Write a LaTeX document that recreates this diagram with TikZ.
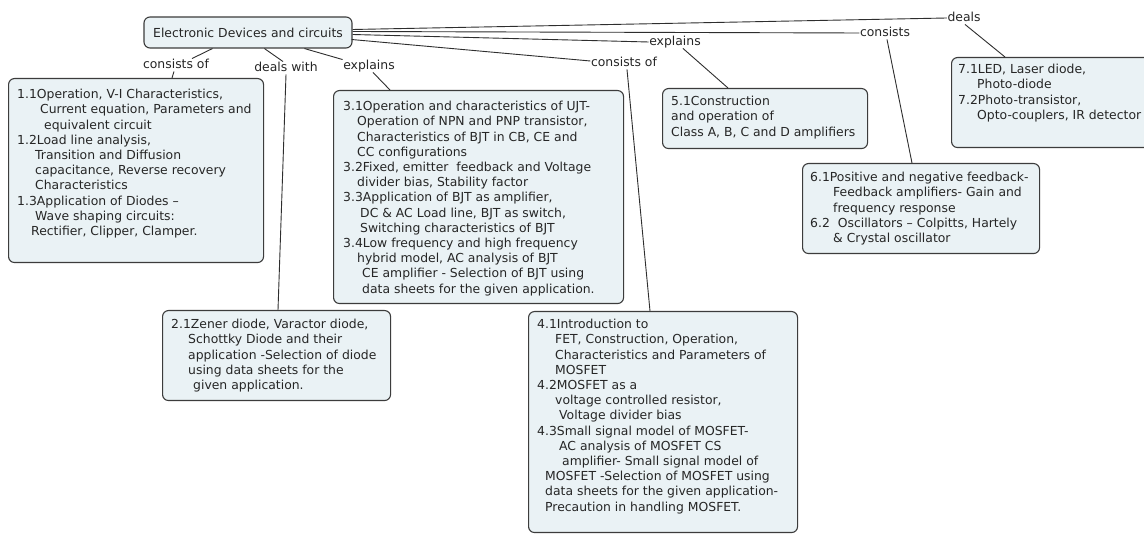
\documentclass[tikz,border=0pt]{standalone}
\usepackage{fontspec}
\setmainfont{DejaVu Sans}
\usetikzlibrary{calc}
\definecolor{boxfill}{HTML}{EAF2F5}
\definecolor{boxline}{HTML}{3C3C3C}
\definecolor{connc}{HTML}{2E2E2E}
\tikzset{
  box/.style={draw=boxline, fill=boxfill, line width=1.1pt, rounded corners=6pt, anchor=north west, inner sep=0pt},
  txt/.style={anchor=north west, inner sep=0pt, align=left, font=\fontsize{12.4}{15.2}\selectfont, text=black!85},
  lbl/.style={inner sep=0.5pt, text height=9pt, text depth=2.5pt, font=\fontsize{12.4}{15}\selectfont, text=black!85},
  conn/.style={draw=connc, line width=0.9pt},
}
\begin{document}
\begin{tikzpicture}[x=1pt,y=-1pt]
\clip (0,0) rectangle (1144,534);
\fill[white] (0,0) rectangle (1144,534);

% main node
\node[box, anchor=center, minimum width=208pt, minimum height=31pt, font=\fontsize{12.4}{15}\selectfont, text=black!85] (main) at (248,32.5) {Electronic Devices and circuits};

% boxes
\node[box, minimum width=255pt, minimum height=184pt] (b1) at (8,78) {};
\node[box, minimum width=228pt, minimum height=90pt] (b2) at (162,310) {};
\node[box, minimum width=290pt, minimum height=213pt] (b3) at (333,90) {};
\node[box, minimum width=269pt, minimum height=221pt] (b4) at (528,311) {};
\node[box, minimum width=205pt, minimum height=60pt] (b5) at (662,88) {};
\node[box, minimum width=237pt, minimum height=90pt] (b6) at (802,163) {};
\node[box, minimum width=214pt, minimum height=90pt] (b7) at (951,57) {};

% box texts
\node[txt] (t1) at (17,89) {1.1Operation, V-I Characteristics,\\
\hspace*{23pt}Current equation, Parameters and\\
\hspace*{27pt}equivalent circuit\\
1.2Load line analysis,\\
\hspace*{18pt}Transition and Diffusion\\
\hspace*{18pt}capacitance, Reverse recovery\\
\hspace*{18pt}Characteristics\\
1.3Application of Diodes –\\
\hspace*{18pt}Wave shaping circuits:\\
\hspace*{14pt}Rectifier, Clipper, Clamper.};

\node[txt] (t2) at (171,319) {2.1Zener diode, Varactor diode,\\
\hspace*{17pt}Schottky Diode and their\\
\hspace*{17pt}application -Selection of diode\\
\hspace*{17pt}using data sheets for the\\
\hspace*{22pt}given application.};

\node[txt] (t3) at (343,101) {3.1Operation and characteristics of UJT-\\
\hspace*{14pt}Operation of NPN and PNP transistor,\\
\hspace*{14pt}Characteristics of BJT in CB, CE and\\
\hspace*{14pt}CC configurations\\
3.2Fixed, emitter\ \ feedback and Voltage\\
\hspace*{14pt}divider bias, Stability factor\\
3.3Application of BJT as amplifier,\\
\hspace*{17pt}DC \& AC Load line, BJT as switch,\\
\hspace*{17pt}Switching characteristics of BJT\\
3.4Low frequency and high frequency\\
\hspace*{14pt}hybrid model, AC analysis of BJT\\
\hspace*{19pt}CE amplifier - Selection of BJT using\\
\hspace*{19pt}data sheets for the given application.};

\node[txt] (t4) at (537,319) {4.1Introduction to\\
\hspace*{18pt}FET, Construction, Operation,\\
\hspace*{18pt}Characteristics and Parameters of\\
\hspace*{18pt}MOSFET\\
4.2MOSFET as a\\
\hspace*{18pt}voltage controlled resistor,\\
\hspace*{22pt}Voltage divider bias\\
4.3Small signal model of MOSFET-\\
\hspace*{22pt}AC analysis of MOSFET CS\\
\hspace*{25pt}amplifier- Small signal model of\\
\hspace*{8pt}MOSFET -Selection of MOSFET using\\
\hspace*{8pt}data sheets for the given application-\\
\hspace*{8pt}Precaution in handling MOSFET.};

\node[txt] (t5) at (671,96) {5.1Construction\\
and operation of\\
Class A, B, C and D amplifiers};

\node[txt] (t6) at (810,172) {6.1Positive and negative feedback-\\
\hspace*{23pt}Feedback amplifiers- Gain and\\
\hspace*{23pt}frequency response\\
6.2\ \ Oscillators – Colpitts, Hartely\\
\hspace*{23pt}\& Crystal oscillator};

\node[txt] (t7) at (958,64) {7.1LED, Laser diode,\\
\hspace*{19pt}Photo-diode\\
7.2Photo-transistor,\\
\hspace*{19pt}Opto-couplers, IR detector};

% labels
\node[lbl] (c1) at (176,65) {consists of};
\node[lbl] (dw) at (286,68) {deals with};
\node[lbl] (e1) at (369,66) {explains};
\node[lbl] (co2) at (624,63) {consists of};
\node[lbl] (ex2) at (675,42) {explains};
\node[lbl] (cs) at (885,33) {consists};
\node[lbl] (dl) at (964,18) {deals};

% connectors
\draw[conn] ($(main.south west)+(69,0)$) -- ($(c1.north)+(16,0)$);
\draw[conn] ($(c1.south)+(-2,0)$) -- ($(b1.north west)+(164,0)$);
\draw[conn] ($(main.south west)+(121,0)$) -- ($(dw.north)+(-3,0)$);
\draw[conn] (dw.south) -- ($(b2.north west)+(116,0)$);
\draw[conn] ($(main.south west)+(161,0)$) -- (e1.north west);
\draw[conn] ($(e1.south)+(4,0)$) -- ($(b3.north west)+(57,0)$);
\draw[conn] ($(main.east)+(0,-3)$) -- (dl.west);
\draw[conn] ($(main.east)+(0,-1)$) -- (cs.west);
\draw[conn] ($(main.east)+(0,2)$) -- (ex2.west);
\draw[conn] ($(main.east)+(-1,7)$) -- ($(co2.west)+(0,-2)$);
\draw[conn] ($(dl.south)+(1,0)$) -- ($(b7.north west)+(54,0)$);
\draw[conn] ($(cs.south)+(2,0)$) -- ($(b6.north west)+(110,0)$);
\draw[conn] ($(ex2.south)+(8,0)$) -- ($(b5.north west)+(66,0)$);
\draw[conn] ($(co2.south)+(3,0)$) -- ($(b4.north west)+(122,0)$);
\end{tikzpicture}
\end{document}
